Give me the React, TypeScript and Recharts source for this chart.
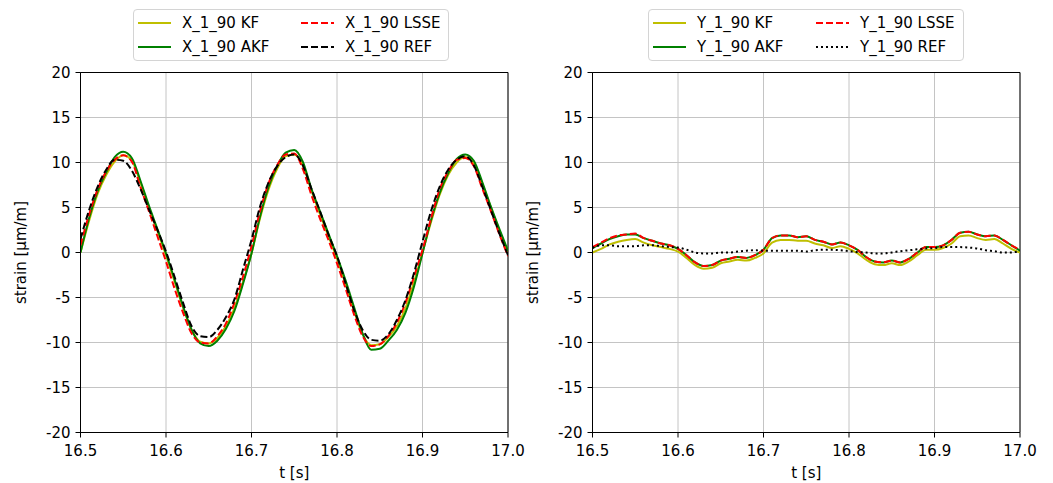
import React from 'react';
import {
    LineChart,
    Line,
    XAxis,
    YAxis,
    CartesianGrid,
    ReferenceArea
} from 'recharts';

// time stamps [s]
const time = [
    16.50, 16.51, 16.52, 16.53, 16.54, 16.55, 16.56, 16.57, 16.58, 16.59,
    16.60, 16.61, 16.62, 16.63, 16.64, 16.65, 16.66, 16.67, 16.68, 16.69,
    16.70, 16.71, 16.72, 16.73, 16.74, 16.75, 16.76, 16.77, 16.78, 16.79,
    16.80, 16.81, 16.82, 16.83, 16.84, 16.85, 16.86, 16.87, 16.88, 16.89,
    16.90, 16.91, 16.92, 16.93, 16.94, 16.95, 16.96, 16.97, 16.98, 16.99,
    17.00
];

// left panel: X_1_90
const xKF = [
    0.0, 3.5, 6.5, 8.6, 10.1, 10.8, 10.2, 7.8, 5.0, 2.4,
    -0.3, -3.2, -6.1, -8.6, -9.9, -10.1, -9.5, -8.2, -6.2, -3.3,
    -0.1, 3.8, 7.0, 9.3, 10.7, 10.9, 9.7, 6.9, 4.3, 1.8,
    -0.7, -3.5, -6.5, -9.1, -10.3, -10.2, -9.4, -8.2, -6.2, -3.3,
    0.0, 3.4, 6.4, 8.6, 10.0, 10.6, 9.9, 7.6, 5.0, 2.4,
    0.0
];
const xAKF = [
    0.0, 3.8, 6.8, 8.9, 10.6, 11.2, 10.5, 8.0, 5.2, 2.6,
    -0.1, -3.0, -6.0, -8.6, -10.1, -10.4, -9.8, -8.5, -6.5, -3.5,
    -0.1, 4.0, 7.3, 9.6, 11.1, 11.4, 10.1, 7.1, 4.6, 2.1,
    -0.4, -3.1, -6.1, -9.0, -10.8, -10.7, -9.8, -8.6, -6.7, -3.8,
    -0.1, 3.6, 6.6, 8.8, 10.4, 10.9, 10.2, 7.8, 5.1, 2.6,
    0.2
];
const xLSSE = [
    0.8, 4.2, 7.0, 9.0, 10.3, 10.8, 10.1, 7.3, 4.6, 1.8,
    -1.0, -4.0, -6.7, -9.0, -10.0, -10.1, -9.3, -7.9, -5.6, -2.7,
    0.7, 4.6, 7.7, 9.7, 10.9, 11.0, 9.3, 6.4, 3.8, 1.4,
    -1.2, -4.0, -6.9, -9.3, -10.4, -10.2, -9.3, -7.8, -5.6, -2.7,
    0.3, 3.8, 7.0, 9.0, 10.3, 10.5, 9.6, 7.1, 4.6, 2.0,
    -0.4
];
const xREF = [
    1.5, 4.7, 7.3, 9.2, 10.3, 10.2, 9.1, 7.1, 4.8, 2.5,
    0.1, -2.7, -5.6, -8.2, -9.3, -9.4, -8.6, -7.2, -5.2, -1.9,
    1.4, 5.1, 7.8, 9.6, 10.6, 10.9, 9.7, 7.1, 4.6, 2.0,
    -0.4, -3.4, -6.4, -8.6, -9.7, -9.8, -9.1, -7.5, -5.3, -2.3,
    1.2, 4.6, 7.3, 9.2, 10.3, 10.7, 9.7, 7.3, 4.7, 2.1,
    -0.3
];

// right panel: Y_1_90
const yKF = [
    0.0, 0.4, 0.9, 1.2, 1.4, 1.5, 1.1, 0.8, 0.6, 0.4,
    0.1, -0.6, -1.4, -1.8, -1.7, -1.2, -1.0, -0.8, -0.9, -0.6,
    -0.1, 1.1, 1.4, 1.4, 1.3, 1.3, 1.0, 0.8, 0.5, 0.7,
    0.4, -0.1, -0.8, -1.3, -1.4, -1.2, -1.4, -1.0, -0.3, 0.3,
    0.3, 0.5, 1.0, 1.8, 1.9, 1.6, 1.4, 1.5, 1.0, 0.4,
    0.0
];
const yAKF = [
    0.5, 1.0, 1.5, 1.8, 2.0, 2.0, 1.6, 1.3, 1.0, 0.8,
    0.4, -0.3, -1.1, -1.5, -1.4, -0.9, -0.7, -0.5, -0.6, -0.3,
    0.3, 1.6, 1.9, 1.9, 1.7, 1.8, 1.4, 1.2, 0.9, 1.1,
    0.8, 0.3, -0.5, -1.0, -1.1, -0.9, -1.1, -0.7, 0.0, 0.6,
    0.6, 0.8, 1.4, 2.2, 2.3, 2.0, 1.8, 1.9, 1.4, 0.8,
    0.2
];
const yLSSE = [
    0.6, 1.1, 1.6, 1.9, 2.0, 2.1, 1.6, 1.3, 1.0, 0.8,
    0.4, -0.3, -1.1, -1.5, -1.4, -0.9, -0.7, -0.5, -0.6, -0.3,
    0.3, 1.6, 1.9, 1.9, 1.7, 1.8, 1.4, 1.2, 0.9, 1.1,
    0.8, 0.3, -0.5, -1.0, -1.1, -0.9, -1.1, -0.7, 0.0, 0.6,
    0.6, 0.8, 1.4, 2.2, 2.3, 2.0, 1.8, 1.9, 1.4, 0.8,
    0.3
];
const yREF = [
    0.5, 0.8, 0.8, 0.7, 0.7, 0.7, 0.8, 0.8, 0.7, 0.6,
    0.55, 0.3, 0.0, -0.1, -0.1, 0.0, 0.0, 0.1, 0.2, 0.25,
    0.2, 0.2, 0.2, 0.2, 0.2, 0.1, 0.25, 0.3, 0.3, 0.25,
    0.15, 0.05, 0.0, -0.1, -0.1, 0.0, 0.15, 0.25, 0.35, 0.45,
    0.5, 0.6, 0.6, 0.6, 0.55, 0.45, 0.25, 0.15, 0.0, 0.0,
    0.2
];

const xTicks = [16.5, 16.6, 16.7, 16.8, 16.9, 17.0];
const yTicks = [-20, -15, -10, -5, 0, 5, 10, 15, 20];

const FONT = '"DejaVu Sans", sans-serif';
const FS = 15;

type Series = { key: string; name: string; color: string; dash?: string };

const buildRows = (kf: number[], akf: number[], lsse: number[], ref: number[]) =>
    time.map((t, i) => ({ t, kf: kf[i], akf: akf[i], lsse: lsse[i], ref: ref[i] }));

const leftSeries: Series[] = [
    { key: 'kf', name: 'X_1_90 KF', color: '#bfbf00' },
    { key: 'akf', name: 'X_1_90 AKF', color: '#008000' },
    { key: 'lsse', name: 'X_1_90 LSSE', color: '#ff0000', dash: '7 3' },
    { key: 'ref', name: 'X_1_90 REF', color: '#000000', dash: '7 3' }
];
const rightSeries: Series[] = [
    { key: 'kf', name: 'Y_1_90 KF', color: '#bfbf00' },
    { key: 'akf', name: 'Y_1_90 AKF', color: '#008000' },
    { key: 'lsse', name: 'Y_1_90 LSSE', color: '#ff0000', dash: '7 3' },
    { key: 'ref', name: 'Y_1_90 REF', color: '#000000', dash: '2 3' }
];

// matplotlib-like legend box, two columns filled column-first
const LegendBox = ({ series, left }: { series: Series[]; left: number }) => (
    <div
        style={{
            position: 'absolute',
            left,
            top: 9,
            width: 316,
            height: 52,
            boxSizing: 'border-box',
            border: '1px solid #d4d4d4',
            borderRadius: 4,
            background: 'rgba(255,255,255,0.8)',
            fontFamily: FONT,
            fontSize: FS,
            color: '#000'
        }}
    >
        {series.map((s, i) => {
            const col = Math.floor(i / 2);
            const row = i % 2;
            return (
                <div
                    key={s.key}
                    style={{
                        position: 'absolute',
                        left: 4 + col * 163,
                        top: 2 + row * 24,
                        height: 22,
                        display: 'flex',
                        alignItems: 'center',
                        whiteSpace: 'nowrap'
                    }}
                >
                    <svg width={33} height={22} style={{ display: 'block' }}>
                        <line x1={0} x2={33} y1={11} y2={11} stroke={s.color} strokeWidth={2} strokeDasharray={s.dash} />
                    </svg>
                    <span style={{ marginLeft: 11 }}>{s.name}</span>
                </div>
            );
        })}
    </div>
);

const Panel = ({ data, series, left, legendLeft }: { data: any[]; series: Series[]; left: number; legendLeft: number }) => (
    <div style={{ position: 'absolute', left, top: 0, width: 530, height: 483 }}>
        <LineChart width={530} height={483} data={data} margin={{ top: 72.5, right: 22, left: 20.5, bottom: 20.5 }}>
            <CartesianGrid stroke="#c4c4c4" strokeWidth={1} horizontalValues={yTicks} verticalValues={xTicks} />
            <XAxis
                dataKey="t"
                type="number"
                domain={[16.5, 17.0]}
                ticks={xTicks}
                tickFormatter={(v: number) => v.toFixed(1)}
                height={30}
                tickSize={5}
                tickMargin={8}
                stroke="#000"
                tick={{ fontSize: FS, fill: '#000', fontFamily: FONT }}
                label={{ value: 't [s]', position: 'bottom', offset: 5, style: { fontSize: FS, fill: '#000', fontFamily: FONT } }}
                allowDataOverflow
            />
            <YAxis
                type="number"
                domain={[-20, 20]}
                ticks={yTicks}
                width={60}
                tickSize={5}
                tickMargin={5}
                stroke="#000"
                tick={{ fontSize: FS, fill: '#000', fontFamily: FONT }}
                label={{
                    value: 'strain [µm/m]',
                    angle: -90,
                    position: 'insideLeft',
                    offset: 0,
                    style: { textAnchor: 'middle', fontSize: FS, fill: '#000', fontFamily: FONT }
                }}
                allowDataOverflow
            />
            <ReferenceArea x1={16.5} x2={17.0} y1={-20} y2={20} fill="none" stroke="#000" strokeWidth={1} fillOpacity={0} />
            {series.map(s => (
                <Line
                    key={s.key}
                    type="monotone"
                    dataKey={s.key}
                    name={s.name}
                    stroke={s.color}
                    strokeWidth={2}
                    strokeDasharray={s.dash}
                    dot={false}
                    isAnimationActive={false}
                />
            ))}
        </LineChart>
        <LegendBox series={series} left={legendLeft} />
    </div>
);

export default function App() {
    const leftData = buildRows(xKF, xAKF, xLSSE, xREF);
    const rightData = buildRows(yKF, yAKF, yLSSE, yREF);
    return (
        <div style={{ position: 'absolute', left: 0, top: 0, width: 1053, height: 483, background: '#fff' }}>
            <Panel data={leftData} series={leftSeries} left={0} legendLeft={133} />
            <Panel data={rightData} series={rightSeries} left={512} legendLeft={136} />
        </div>
    );
}
